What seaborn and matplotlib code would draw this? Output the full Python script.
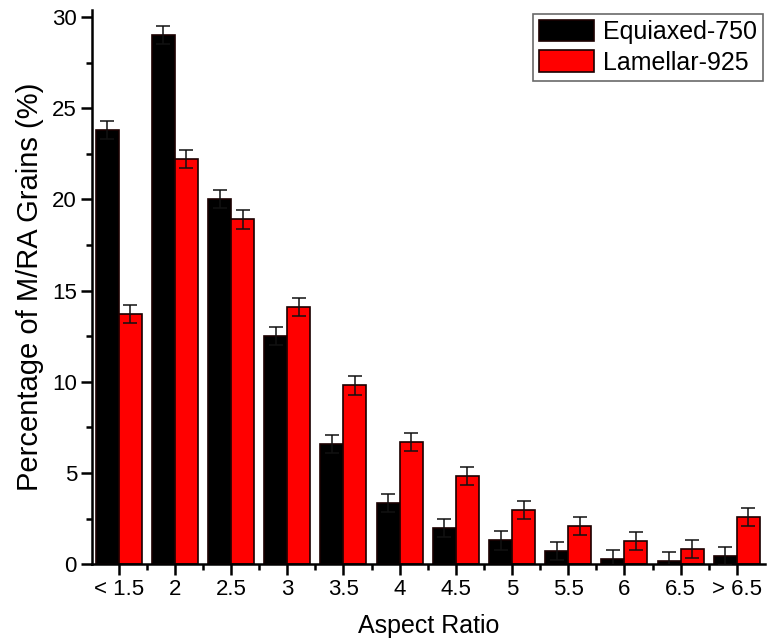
import pandas as pd
import seaborn as sns
import matplotlib.pyplot as plt
from matplotlib.ticker import MultipleLocator

categories = ['< 1.5', '2', '2.5', '3', '3.5', '4', '4.5', '5', '5.5', '6', '6.5', '> 6.5']
equiaxed = [23.8, 29.0, 20.0, 12.5, 6.6, 3.35, 2.0, 1.3, 0.7, 0.3, 0.15, 0.45]
equiaxed_err = [0.5, 0.5, 0.5, 0.5, 0.5, 0.5, 0.5, 0.5, 0.5, 0.5, 0.5, 0.5]
lamellar = [13.7, 22.2, 18.9, 14.1, 9.8, 6.7, 4.85, 2.95, 2.1, 1.25, 0.85, 2.6]
lamellar_err = [0.5, 0.5, 0.5, 0.5, 0.5, 0.5, 0.5, 0.5, 0.5, 0.5, 0.5, 0.5]
series = ['Equiaxed-750', 'Lamellar-925']

df = pd.DataFrame({
    'Aspect Ratio': categories * 2,
    'Percentage': equiaxed + lamellar,
    'Sample': [series[0]] * len(categories) + [series[1]] * len(categories),
})

sns.set_style('ticks')
plt.rcParams['font.family'] = ['Liberation Sans', 'DejaVu Sans']
plt.rcParams['text.color'] = 'black'
plt.rcParams['axes.labelcolor'] = 'black'
plt.rcParams['xtick.color'] = 'black'
plt.rcParams['ytick.color'] = 'black'
plt.rcParams['axes.edgecolor'] = 'black'

fig = plt.figure(figsize=(7.75, 6.44), dpi=100)
ax = fig.add_axes([0.119, 0.124, 0.868, 0.861])

sns.barplot(data=df, x='Aspect Ratio', y='Percentage', hue='Sample', order=categories,
            hue_order=series, palette=['#000000', '#ff0000'], saturation=1, width=0.82, gap=0,
            edgecolor='#1a0000', linewidth=1.2, errorbar=None, ax=ax)

for cont, errs in zip(ax.containers, [equiaxed_err, lamellar_err]):
    xs = [p.get_x() + p.get_width() / 2 for p in cont.patches]
    hs = [p.get_height() for p in cont.patches]
    ax.errorbar(xs, hs, yerr=errs, fmt='none', ecolor='#111111', elinewidth=1.1,
                capsize=5, capthick=1.1, zorder=5)

ax.set_xlim(-0.47, 11.5)
ax.set_ylim(0, 30.4)
ax.yaxis.set_major_locator(MultipleLocator(5))
ax.yaxis.set_minor_locator(MultipleLocator(2.5))
ax.set_xticks(range(len(categories)))
ax.set_xticks([i + 0.5 for i in range(len(categories) - 1)], minor=True)
ax.set_xticklabels(categories)

for side in ['top', 'right']:
    ax.spines[side].set_visible(False)
for side in ['left', 'bottom']:
    ax.spines[side].set_linewidth(1.8)
ax.tick_params(which='major', direction='out', length=8, width=1.8, labelsize=16, pad=3)
ax.tick_params(which='minor', direction='out', length=4.5, width=1.8)

ax.set_xlabel('Aspect Ratio', fontsize=18, labelpad=10)
ax.set_ylabel('Percentage of M/RA Grains (%)', fontsize=21, labelpad=6)

leg = ax.legend(loc='upper right', bbox_to_anchor=(0.997, 0.993), fontsize=18, frameon=True,
                fancybox=False, edgecolor='#444444', handlelength=2.2, handleheight=0.95,
                borderpad=0.25, labelspacing=0.25, handletextpad=0.35, borderaxespad=0)
leg.get_frame().set_linewidth(1.2)

plt.savefig('out.png', dpi=100)
